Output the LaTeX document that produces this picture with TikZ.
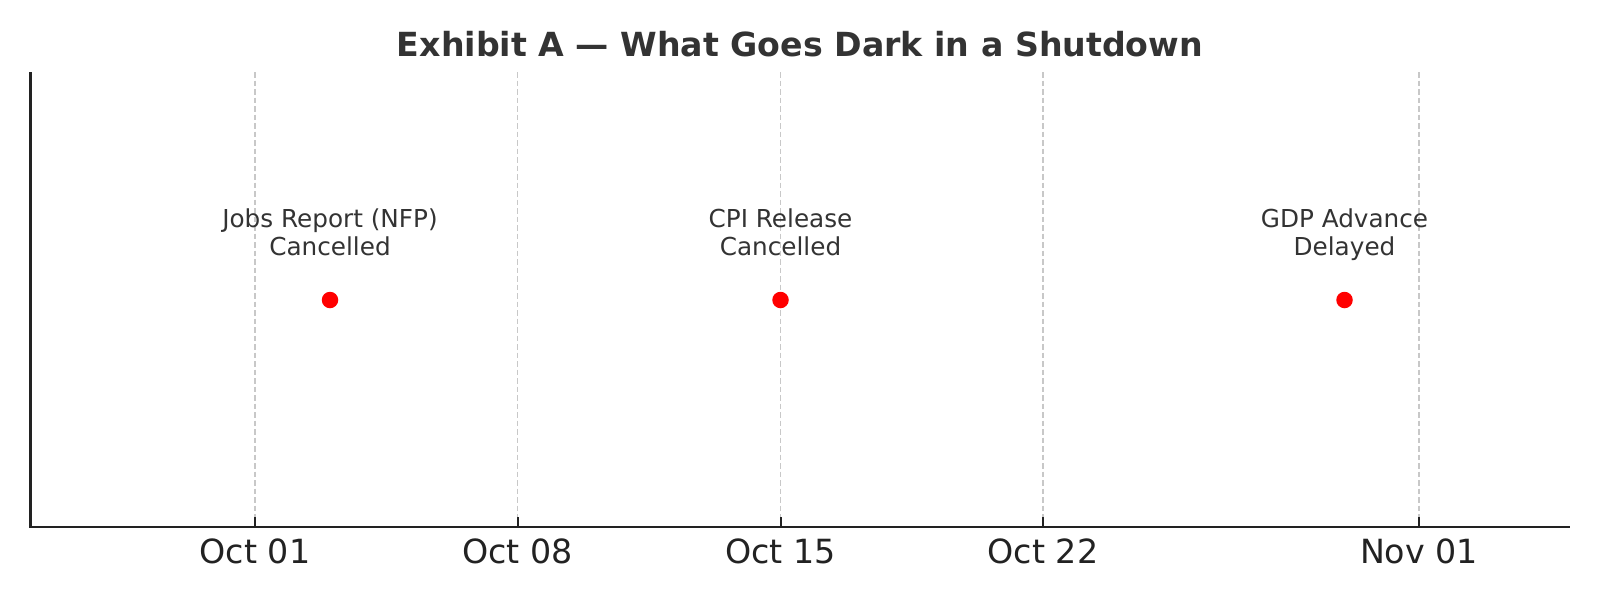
\documentclass[tikz,border=0pt]{standalone}
\usepackage{fontspec}
\setmainfont{DejaVu Sans}
\definecolor{axiscol}{HTML}{222222}
\definecolor{gridcol}{HTML}{C8C8C8}
\definecolor{txtcol}{HTML}{333333}
\definecolor{dotcol}{HTML}{FF0000}
\begin{document}
\begin{tikzpicture}[x=1pt,y=-1pt,
  gridline/.style={draw=gridcol,line width=1.4pt,dash pattern=on 5.5pt off 3pt},
  axisline/.style={draw=axiscol,line width=2.6pt},
  tickmark/.style={draw=axiscol,line width=2pt},
  ticklabel/.style={font=\fontsize{33.3}{36}\selectfont,text=axiscol,anchor=base,inner sep=0pt},
  eventlabel/.style={font=\fontsize{24.7}{27.5}\selectfont,text=txtcol,align=center,anchor=base,inner sep=0pt},
  eventdot/.style={circle,fill=dotcol,minimum size=16.5pt,inner sep=0pt},
  titlestyle/.style={font=\fontsize{33.2}{36}\selectfont\bfseries,text=txtcol,anchor=base,inner sep=0pt}]
\useasboundingbox[fill=white] (0,0) rectangle (1600,600);
% axes
\coordinate (origin) at (30.5,527);
\coordinate (ytop) at (30.5,72);
\coordinate (xend) at (1569.5,527);
% gridlines
\foreach \x/\n/\lab in {255/a/Oct 01,517.5/b/Oct 08,780.5/c/Oct 15,1043/d/Oct 22,1419/e/Nov 01}{
  \coordinate (g\n top) at (\x,72);
  \coordinate (g\n bot) at (\x,527);
  \coordinate (g\n tick) at (\x,517);
  \draw[gridline] (g\n top) -- (g\n bot);
  \draw[tickmark] (g\n bot) -- (g\n tick);
  \node[ticklabel] (t\n) at (\x,563.5) {\lab};
}
\draw[axisline] (ytop) -- (origin) -- (xend);
% title
\node[titlestyle] (title) at (800,56) {Exhibit A — What Goes Dark in a Shutdown};
% events
\node[eventdot] (d1) at (330,300) {};
\node[eventdot] (d2) at (780.5,300) {};
\node[eventdot] (d3) at (1344.5,300) {};
\node[eventlabel] (l1) at (330,255) {Jobs Report (NFP)\\Cancelled};
\node[eventlabel] (l2) at (780.5,255) {CPI Release\\Cancelled};
\node[eventlabel] (l3) at (1344.5,255) {GDP Advance\\Delayed};
\end{tikzpicture}
\end{document}
